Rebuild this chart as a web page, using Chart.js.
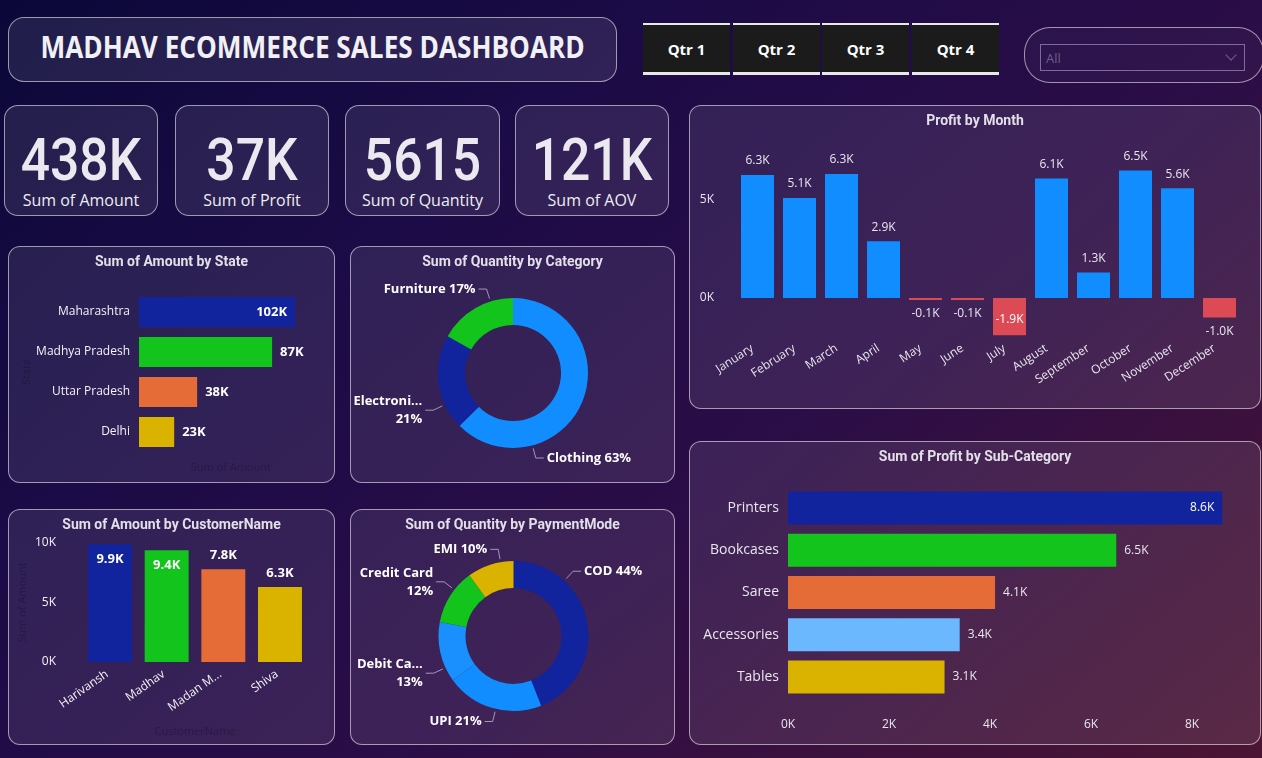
<!DOCTYPE html>
<html lang="en">
<head>
<meta charset="utf-8">
<title>MADHAV ECOMMERCE SALES DASHBOARD</title>
<script src="https://cdn.jsdelivr.net/npm/chart.js@4.4.1/dist/chart.umd.min.js"></script>
<style>
  html, body { margin: 0; padding: 0; }
  body {
    width: 1262px; height: 758px; overflow: hidden; position: relative;
    background: linear-gradient(140deg, #0b0839 0%, #1b0b46 30%, #2b0d47 60%, #4b1433 100%);
    font-family: "Open Sans", "Noto Sans", sans-serif; color: #fff;
  }
  .box {
    position: absolute; box-sizing: border-box;
    border: 1px solid rgba(255,255,255,0.55); border-radius: 12px;
    background: rgba(255,255,255,0.09);
  }
  .box canvas { position: absolute; left: -1px; top: -1px; }
  .ttl {
    position: absolute; left: 0; right: 0; top: 5px; text-align: center;
    font: bold 14px Roboto, sans-serif; color: #e2dfe8; line-height: 18px;
  }
  #header { left: 8px; top: 17px; width: 609px; height: 65px; border-radius: 16px;
    display: flex; align-items: center; justify-content: center; padding-bottom: 6px; }
  #header span { font: bold 30px "Open Sans", sans-serif; color: #f1f0f5; white-space: nowrap; display: inline-block; }
  .qtr {
    position: absolute; top: 23px; width: 87px; height: 52px; box-sizing: border-box;
    background: #1b1b1b; border-top: 2px solid #e8e8e8; border-bottom: 3px solid #e8e8e8;
    font: bold 15px "Open Sans", sans-serif; color: #fff;
    display: flex; align-items: center; justify-content: center;
  }
  #slicer { left: 1024px; top: 27px; width: 240px; height: 56px; border-radius: 26px; background: rgba(255,255,255,0.03); }
  #dropdown {
    position: absolute; left: 15px; top: 16px; width: 205px; height: 27px; box-sizing: border-box;
    border: 1px solid #7d6c95; font: 13px "Open Sans", sans-serif; color: #6d5f88;
    padding-left: 5px; line-height: 27px;
  }
  #dropdown i {
    position: absolute; right: 9px; top: 6px; width: 7px; height: 7px;
    border-right: 1px solid #6d5f88; border-bottom: 1px solid #6d5f88; transform: rotate(45deg);
  }
  .kpi { top: 105px; height: 111px; border-radius: 14px; }
  .kpi .num {
    position: absolute; left: 0; right: 0; top: 21px; text-align: center;
    font: 500 60px Roboto, sans-serif; line-height: 66px; color: #ebe9ef; transform: scaleX(0.86);
  }
  .kpi .lbl {
    position: absolute; left: 0; right: 0; top: 84px; text-align: center;
    font: 16px "Open Sans", sans-serif; line-height: 20px; color: #eeeef2;
  }
</style>
</head>
<body>

<div class="box" id="header"><span id="headerText">MADHAV ECOMMERCE SALES DASHBOARD</span></div>
<div id="qtrs"></div>
<div class="box" id="slicer"><div id="dropdown">All<i></i></div></div>
<div id="kpis"></div>

<div class="box" style="left:8px;top:246px;width:327px;height:237px;">
  <canvas id="stateChart" width="327" height="237"></canvas>
  <div class="ttl">Sum of Amount by State</div>
</div>
<div class="box" style="left:350px;top:246px;width:325px;height:237px;">
  <canvas id="categoryChart" width="325" height="237"></canvas>
  <div class="ttl">Sum of Quantity by Category</div>
</div>
<div class="box" style="left:8px;top:509px;width:327px;height:236px;">
  <canvas id="customerChart" width="327" height="236"></canvas>
  <div class="ttl">Sum of Amount by CustomerName</div>
</div>
<div class="box" style="left:350px;top:509px;width:325px;height:236px;">
  <canvas id="paymentChart" width="325" height="236"></canvas>
  <div class="ttl">Sum of Quantity by PaymentMode</div>
</div>
<div class="box" style="left:689px;top:105px;width:572px;height:304px;">
  <canvas id="monthChart" width="572" height="304"></canvas>
  <div class="ttl">Profit by Month</div>
</div>
<div class="box" style="left:689px;top:441px;width:572px;height:304px;">
  <canvas id="subCategoryChart" width="572" height="304"></canvas>
  <div class="ttl">Sum of Profit by Sub-Category</div>
</div>

<script>
// ---- data ----
const kpiLabels = ['Sum of Amount', 'Sum of Profit', 'Sum of Quantity', 'Sum of AOV'];
const kpiValues = [438000, 37000, 5615, 121000];
const quarters = ['Qtr 1', 'Qtr 2', 'Qtr 3', 'Qtr 4'];

const states = ['Maharashtra', 'Madhya Pradesh', 'Uttar Pradesh', 'Delhi'];
const stateAmount = [102000, 87000, 38000, 23000];

const categories = ['Clothing', 'Electronics', 'Furniture'];
const categoryShort = ['Clothing', 'Electroni...', 'Furniture'];
const categoryQty = [3516, 1154, 945];

const customers = ['Harivansh', 'Madhav', 'Madan M...', 'Shiva'];
const customerAmount = [9900, 9400, 7800, 6300];

const paymentModes = ['COD', 'UPI', 'Debit Card', 'Credit Card', 'EMI'];
const paymentShort = ['COD', 'UPI', 'Debit Ca...', 'Credit Card', 'EMI'];
const paymentQty = [2470, 1179, 730, 674, 562];

const months = ['January', 'February', 'March', 'April', 'May', 'June',
  'July', 'August', 'September', 'October', 'November', 'December'];
const monthProfit = [6280, 5100, 6330, 2900, -100, -100, -1900, 6100, 1300, 6500, 5600, -1000];

const subCategories = ['Printers', 'Bookcases', 'Saree', 'Accessories', 'Tables'];
const subCategoryProfit = [8600, 6500, 4100, 3400, 3100];

// ---- colours ----
const DARK_BLUE = '#12239e', GREEN = '#12c41b', ORANGE = '#e66c37', YELLOW = '#d9b300';
const BLUE = '#118dff', LIGHT_BLUE = '#6cb8ff', RED = '#db4a55';
const FAINT = 'rgba(25,15,45,0.45)';

// header, quarter buttons, kpi cards
const qtrBox = document.getElementById('qtrs');
const qtrLefts = [643, 733, 822, 912];
quarters.forEach((q, i) => {
  const d = document.createElement('div');
  d.className = 'qtr';
  d.style.left = qtrLefts[i] + 'px';
  d.textContent = q;
  qtrBox.appendChild(d);
});

function fmtKpi(v) { return v >= 10000 ? Math.round(v / 1000) + 'K' : String(v); }
const kpiBox = document.getElementById('kpis');
const kpiLefts = [4, 175, 345, 515];
kpiLabels.forEach((name, i) => {
  const card = document.createElement('div');
  card.className = 'box kpi';
  card.style.left = kpiLefts[i] + 'px';
  card.style.width = (i == 2 ? 155 : 154) + 'px';
  card.innerHTML = `<div class="num">${fmtKpi(kpiValues[i])}</div><div class="lbl">${name}</div>`;
  kpiBox.appendChild(card);
});

const head = document.getElementById('headerText');
head.style.transform = `scaleX(${544 / head.offsetWidth})`;

// ---- chart defaults ----
Chart.defaults.font.family = '"Open Sans", "Noto Sans", sans-serif';
Chart.defaults.color = '#ececf2';
Chart.defaults.animation = false;
Chart.defaults.responsive = false;
Chart.defaults.plugins.legend.display = false;
Chart.defaults.plugins.tooltip.enabled = false;

function fmtK(v, d) { return (v / 1000).toFixed(d) + 'K'; }

// value labels on bars: outside the end, moved inside when they would leave the plot area
const barValueLabels = {
  id: 'barValueLabels',
  afterDatasetsDraw(chart, args, opts) {
    if (!opts || !opts.display) return;
    const { ctx, chartArea: area } = chart;
    const horiz = chart.options.indexAxis === 'y';
    const values = chart.data.datasets[0].data;
    const gap = opts.gap;
    ctx.save();
    ctx.font = opts.font;
    ctx.textBaseline = 'middle';
    chart.getDatasetMeta(0).data.forEach((bar, i) => {
      const v = values[i];
      const txt = fmtK(v, opts.decimals);
      let inside = false;
      if (horiz) {
        const w = ctx.measureText(txt).width;
        let x = bar.x + gap;
        if (x + w > area.right) { inside = true; x = bar.x - gap; }
        ctx.textAlign = inside ? 'right' : 'left';
        ctx.fillStyle = inside ? opts.insideColor : opts.color;
        ctx.fillText(txt, x, bar.y);
      } else {
        const h = opts.size;
        const dir = v < 0 ? 1 : -1;
        let y = bar.y + dir * (gap + h / 2);
        if (y < area.top || y > area.bottom) { inside = true; y = bar.y - dir * (gap + h / 2 + 2); }
        ctx.textAlign = 'center';
        ctx.fillStyle = inside ? opts.insideColor : opts.color;
        ctx.fillText(txt, bar.x, y);
      }
    });
    ctx.restore();
  }
};

// slice labels with leader lines for the doughnuts
const sliceLabels = {
  id: 'sliceLabels',
  afterDatasetsDraw(chart, args, opts) {
    if (!opts || !opts.names) return;
    const ctx = chart.ctx;
    const values = chart.data.datasets[0].data;
    const total = values.reduce((a, b) => a + b, 0);
    ctx.save();
    ctx.font = opts.font;
    ctx.lineWidth = 1;
    ctx.strokeStyle = opts.lineColor;
    ctx.fillStyle = opts.color;
    ctx.textBaseline = 'middle';
    chart.getDatasetMeta(0).data.forEach((arc, i) => {
      const a = opts.angles[i] * Math.PI / 180;
      const ux = Math.sin(a), uy = -Math.cos(a);
      const r = arc.outerRadius;
      const x0 = arc.x + (r + 3) * ux, y0 = arc.y + (r + 3) * uy;
      const x1 = arc.x + (r + 13) * ux, y1 = arc.y + (r + 13) * uy;
      const side = ux >= 0 ? 1 : -1;
      const x2 = x1 + side * 8;
      ctx.beginPath();
      ctx.moveTo(x0, y0); ctx.lineTo(x1, y1); ctx.lineTo(x2, y1);
      ctx.stroke();
      const pct = Math.round(values[i] / total * 100) + '%';
      const lines = opts.wrap[i] ? [opts.names[i], pct] : [opts.names[i] + ' ' + pct];
      ctx.textAlign = side > 0 ? 'left' : 'right';
      lines.forEach((t, k) => {
        ctx.fillText(t, x2 + side * 3, y1 + (k - (lines.length - 1) / 2) * 18);
      });
    });
    ctx.restore();
  }
};

Chart.register(barValueLabels, sliceLabels);

function fixWidth(w) { return (s) => { s.width = w; }; }
function fixHeight(h) { return (s) => { s.height = h; }; }
function keepTicks(list) { return (s) => { s.ticks = list.map(v => ({ value: v })); }; }
const noGrid = { display: false, drawTicks: false };

// ---- Sum of Amount by State ----
new Chart(document.getElementById('stateChart'), {
  type: 'bar',
  data: {
    labels: states,
    datasets: [{ data: stateAmount, backgroundColor: [DARK_BLUE, GREEN, ORANGE, YELLOW],
      categoryPercentage: 1, barPercentage: 0.75 }]
  },
  options: {
    indexAxis: 'y',
    layout: { padding: { top: 46, right: 12.4, left: 0, bottom: 0 } },
    scales: {
      x: {
        min: 0, max: 120000,
        ticks: { display: false }, grid: noGrid, border: { display: false },
        title: { display: true, text: 'Sum of Amount', color: FAINT, font: { size: 11 }, padding: { top: 0, bottom: 9 } },
        afterFit: fixHeight(31)
      },
      y: {
        ticks: { color: '#f2f2f6', font: { size: 12 }, padding: 9 },
        grid: noGrid, border: { display: false },
        title: { display: true, text: 'State', color: FAINT, font: { size: 11 }, padding: { top: 12, bottom: 0 } },
        afterFit: fixWidth(131)
      }
    },
    plugins: {
      barValueLabels: { display: true, font: 'bold 13px "Open Sans", sans-serif', size: 13, gap: 8,
        decimals: 0, color: '#ffffff', insideColor: '#ffffff' }
    }
  }
});

// ---- Sum of Quantity by Category ----
new Chart(document.getElementById('categoryChart'), {
  type: 'doughnut',
  data: {
    labels: categories,
    datasets: [{ data: categoryQty, backgroundColor: [BLUE, DARK_BLUE, GREEN], borderWidth: 0 }]
  },
  options: {
    cutout: '64%',
    layout: { padding: { left: 88, right: 87, top: 52, bottom: 35 } },
    plugins: {
      sliceLabels: { names: categoryShort, wrap: [false, true, false], angles: [165, 245, 342.5],
        font: 'bold 13px "Open Sans", sans-serif', color: '#ffffff', lineColor: 'rgba(200,190,215,0.75)' }
    }
  }
});

// ---- Sum of Amount by CustomerName ----
new Chart(document.getElementById('customerChart'), {
  type: 'bar',
  data: {
    labels: customers,
    datasets: [{ data: customerAmount, backgroundColor: [DARK_BLUE, GREEN, ORANGE, YELLOW],
      categoryPercentage: 1, barPercentage: 0.776 }]
  },
  options: {
    layout: { padding: { top: 34, right: 26.7, left: 0, bottom: 0 } },
    scales: {
      x: {
        ticks: { color: '#f2f2f6', font: { size: 12 }, minRotation: 35, maxRotation: 35, autoSkip: false,
          padding: 5, labelOffset: -3 },
        grid: noGrid, border: { display: false },
        title: { display: true, text: 'CustomerName', color: FAINT, font: { size: 11 }, padding: { top: 0, bottom: 7 } },
        afterFit: fixHeight(83)
      },
      y: {
        min: 0, max: 10000,
        afterBuildTicks: keepTicks([0, 5000, 10000]),
        ticks: { color: '#f2f2f6', font: { size: 12 }, padding: 25.7, callback: (v) => (v / 1000) + 'K' },
        grid: noGrid, border: { display: false },
        title: { display: true, text: 'Sum of Amount', color: FAINT, font: { size: 11 }, padding: { top: 8, bottom: 0 } },
        afterFit: fixWidth(73.7)
      }
    },
    plugins: {
      barValueLabels: { display: true, font: 'bold 13px "Open Sans", sans-serif', size: 13, gap: 7,
        decimals: 1, color: '#ffffff', insideColor: '#ffffff' }
    }
  }
});

// ---- Sum of Quantity by PaymentMode ----
new Chart(document.getElementById('paymentChart'), {
  type: 'doughnut',
  data: {
    labels: paymentModes,
    datasets: [{ data: paymentQty, backgroundColor: [DARK_BLUE, BLUE, '#1a90ff', GREEN, YELLOW], borderWidth: 0 }]
  },
  options: {
    cutout: '64%',
    layout: { padding: { left: 88.5, right: 86.5, top: 52, bottom: 34 } },
    plugins: {
      sliceLabels: { names: paymentShort, wrap: [false, false, true, true, false], angles: [42.6, 193.7, 245, 308, 350],
        font: 'bold 13px "Open Sans", sans-serif', color: '#ffffff', lineColor: 'rgba(200,190,215,0.75)' }
    }
  }
});

// ---- Profit by Month ----
new Chart(document.getElementById('monthChart'), {
  type: 'bar',
  data: {
    labels: months,
    datasets: [{ data: monthProfit, backgroundColor: monthProfit.map(v => v < 0 ? RED : BLUE),
      categoryPercentage: 1, barPercentage: 0.786 }]
  },
  options: {
    layout: { padding: { top: 36.2, right: 20.5, left: 0, bottom: 0 } },
    scales: {
      x: {
        ticks: { color: '#e8e6ee', font: { size: 12 }, minRotation: 33, maxRotation: 33, autoSkip: false,
          padding: 4, labelOffset: -5 },
        grid: noGrid, border: { display: false },
        afterFit: fixHeight(71.8)
      },
      y: {
        min: -2000, max: 8000,
        afterBuildTicks: keepTicks([0, 5000]),
        ticks: { color: '#e8e6ee', font: { size: 12 }, padding: 22.5, callback: (v) => (v / 1000) + 'K' },
        grid: noGrid, border: { display: false },
        afterFit: fixWidth(47.5)
      }
    },
    plugins: {
      barValueLabels: { display: true, font: '12px "Open Sans", sans-serif', size: 12, gap: 8,
        decimals: 1, color: '#e8e6ee', insideColor: '#ffffff' }
    }
  }
});

// ---- Sum of Profit by Sub-Category ----
new Chart(document.getElementById('subCategoryChart'), {
  type: 'bar',
  data: {
    labels: subCategories,
    datasets: [{ data: subCategoryProfit, backgroundColor: [DARK_BLUE, GREEN, ORANGE, LIGHT_BLUE, YELLOW],
      categoryPercentage: 1, barPercentage: 0.78 }]
  },
  options: {
    indexAxis: 'y',
    layout: { padding: { top: 45.9, right: 18.5, left: 0, bottom: 0 } },
    scales: {
      x: {
        min: 0, max: 9000,
        afterBuildTicks: keepTicks([0, 2000, 4000, 6000, 8000]),
        ticks: { color: '#e8e6ee', font: { size: 12 }, padding: 19, callback: (v) => (v / 1000) + 'K' },
        grid: noGrid, border: { display: false },
        afterFit: fixHeight(46.9)
      },
      y: {
        ticks: { color: '#e8e6ee', font: { size: 14 }, padding: 9 },
        grid: noGrid, border: { display: false },
        afterFit: fixWidth(99)
      }
    },
    plugins: {
      barValueLabels: { display: true, font: '12px "Open Sans", sans-serif', size: 12, gap: 8,
        decimals: 1, color: '#e8e6ee', insideColor: '#ffffff' }
    }
  }
});
</script>
</body>
</html>
